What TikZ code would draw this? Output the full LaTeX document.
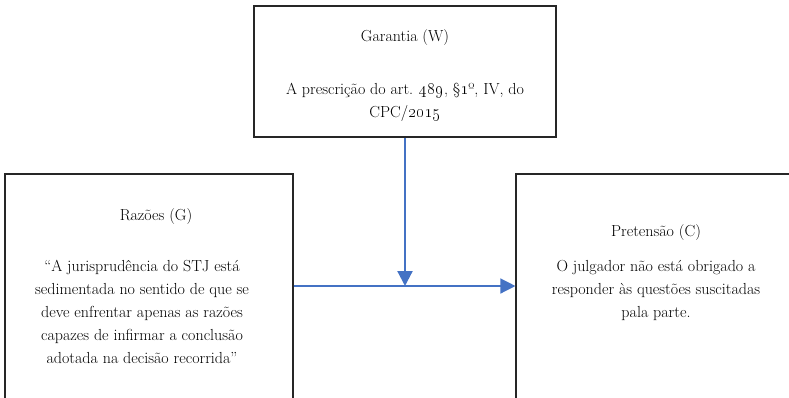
\documentclass[tikz,border=0pt]{standalone}
\usetikzlibrary{arrows.meta,positioning}
\definecolor{arrowblue}{RGB}{68,114,196}
\tikzset{
  box/.style={draw=black!85,line width=1.1pt,rectangle,inner sep=0pt},
  txt/.style={align=center,inner sep=0pt,font=\fontsize{16}{23}\selectfont},
  arr/.style={-{Triangle[length=15pt,width=15pt]},draw=arrowblue},
}
\begin{document}
\begin{tikzpicture}[x=1pt,y=-1pt]
  \useasboundingbox (0,0) rectangle (789,397);
  \clip (0,0) rectangle (789,397);
  % the three boxes (lower ones run past the page)
  \node[box,minimum width=302pt,minimum height=131pt] (w) at (405,71.5) {};
  \node[box,minimum width=288pt,minimum height=250pt] (g) at (149,299) {};
  \node[box,minimum width=290pt,minimum height=250pt] (c) at (661,299) {};
  \coordinate (j) at (404,286);
  % texts
  \node[txt,below=24pt of w.north] (wh) {Garantia (W)};
  \node[txt,below=37pt of wh] (wb) {A prescrição do art. \oldstylenums{489}, §\oldstylenums{1}º, IV, do\\CPC/\oldstylenums{2015}};
  \node[txt,below=35pt of g.north,xshift=7pt] (gh) {Razões (G)};
  \node[txt,below=35pt of gh,xshift=-14pt] (gb) {“A jurisprudência do STJ está\\sedimentada no sentido de que se\\deve enfrentar apenas as razões\\capazes de infirmar a conclusão\\adotada na decisão recorrida”};
  \node[txt,below=51pt of c.north,xshift=-5pt] (ch) {Pretensão (C)};
  \node[txt,below=19pt of ch] (cb) {O julgador não está obrigado a\\responder às questões suscitadas\\pala parte.};
  % connectors
  \draw[arr,line width=1.3pt] (g.east |- j) -- (c.west |- j);
  \draw[arr,line width=2.2pt] (w.south) -- (w.south |- j);
\end{tikzpicture}
\end{document}
